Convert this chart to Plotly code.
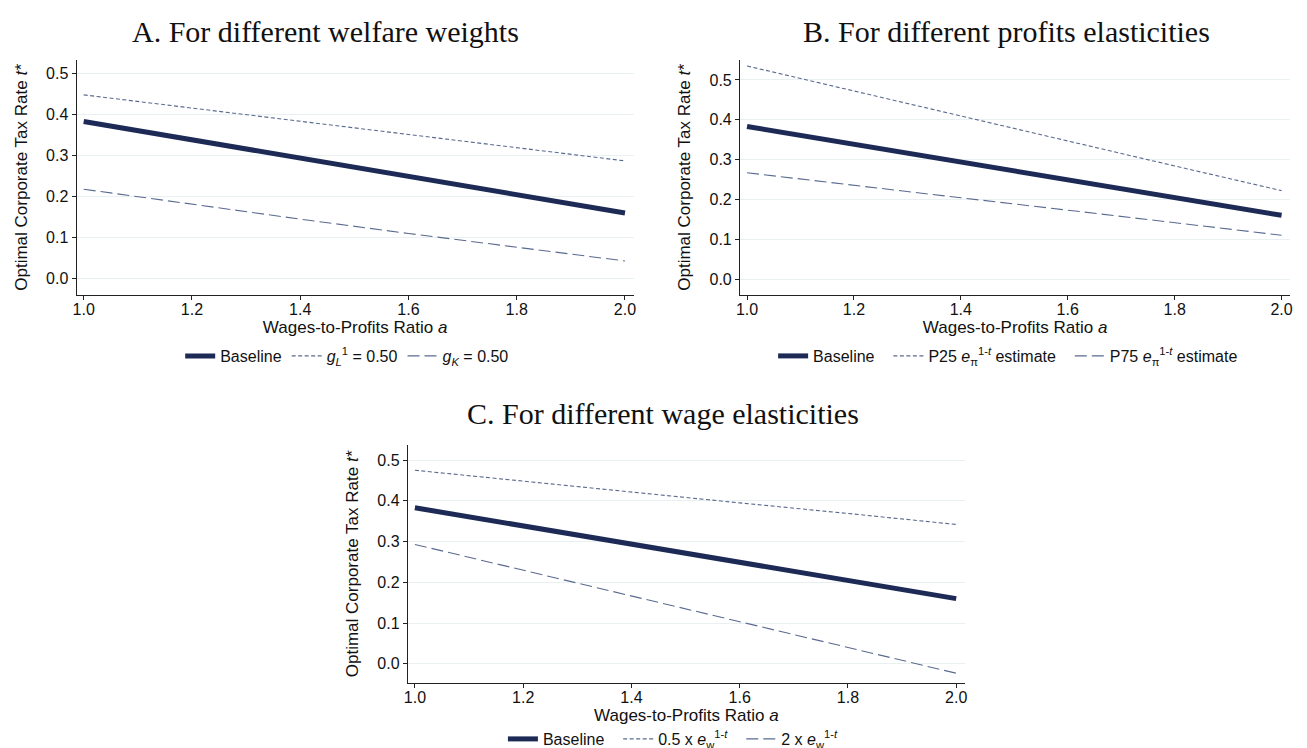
import plotly.graph_objects as go

# ---- data ----
ratio_a = [1.0, 1.2, 1.4, 1.6, 1.8, 2.0]
baseline = [0.383, 0.338, 0.294, 0.249, 0.205, 0.160]
# Panel A: welfare weights
g_L_050 = [0.448, 0.416, 0.383, 0.351, 0.319, 0.287]
g_K_050 = [0.218, 0.181, 0.145, 0.110, 0.076, 0.043]
# Panel B: profits elasticities
p25_est = [0.535, 0.472, 0.409, 0.347, 0.284, 0.222]
p75_est = [0.267, 0.235, 0.204, 0.173, 0.141, 0.110]
# Panel C: wage elasticities
half_ew = [0.475, 0.448, 0.422, 0.395, 0.369, 0.342]
double_ew = [0.293, 0.230, 0.167, 0.103, 0.040, -0.023]

panel_titles = ["A. For different welfare weights",
                "B. For different profits elasticities",
                "C. For different wage elasticities"]
x_ticks = [1.0, 1.2, 1.4, 1.6, 1.8, 2.0]
y_ticks = [0.0, 0.1, 0.2, 0.3, 0.4, 0.5]

W, H = 1307, 748
NAVY = "#1c2a55"
SLATE = "#5a6a8f"
GRID = "#e8f0f1"
SHORT = "4px,2.5px"
LONG = "12px,5px"
SP = "\u00a0\u00a0"

fig = go.Figure()

panels = [
    ("x", "y", "legend", (65, 625), (52, 287), [-0.04, 0.533], "",
     [("<i>g<sub>L</sub></i><sup>1</sup> = 0.50", g_L_050, SHORT),
      ("<i>g<sub>K</sub></i> = 0.50", g_K_050, LONG)]),
    ("x2", "y2", "legend2", (732, 1285), (52, 287), [-0.04, 0.55], SP,
     [("P25 <i>e</i><sub>π</sub><sup>1-<i>t</i></sup> estimate", p25_est, SHORT),
      ("P75 <i>e</i><sub>π</sub><sup>1-<i>t</i></sup> estimate", p75_est, LONG)]),
    ("x3", "y3", "legend3", (398, 958), (437, 675), [-0.047, 0.537], SP,
     [("0.5 x <i>e</i><sub>w</sub><sup>1-<i>t</i></sup>", half_ew, SHORT),
      ("2 x <i>e</i><sub>w</sub><sup>1-<i>t</i></sup>", double_ew, LONG)]),
]

legend_pos = [(337, 348), (1006, 348), (669, 731)]
title_pos = [(315, 23), (1000, 23), (655, 406)]

layout = dict(width=W, height=H, margin=dict(l=0, r=0, t=0, b=0),
              paper_bgcolor="white", plot_bgcolor="white",
              font=dict(family="Liberation Sans, Arial", color="#111111"),
              annotations=[])

for i, (xa, ya, lg, (x0, x1), (y0, y1), yr, pad, series) in enumerate(panels):
    fig.add_trace(go.Scatter(x=ratio_a, y=baseline, mode="lines", name="Baseline" + pad,
                             line=dict(color=NAVY, width=5), xaxis=xa, yaxis=ya, legend=lg))
    for name, vals, dash in series:
        fig.add_trace(go.Scatter(x=ratio_a, y=vals, mode="lines", name=name + pad,
                                 line=dict(color=SLATE, width=1.1, dash=dash),
                                 xaxis=xa, yaxis=ya, legend=lg))
    xkey = "xaxis" if xa == "x" else "xaxis" + xa[1:]
    ykey = "yaxis" if ya == "y" else "yaxis" + ya[1:]
    layout[xkey] = dict(domain=[x0 / W, x1 / W], range=[0.987, 2.016], anchor=ya,
                        tickvals=x_ticks, ticktext=[f"{v:.1f}" for v in x_ticks],
                        showgrid=False, zeroline=False, showline=True, linecolor="#222",
                        linewidth=1.2, ticks="outside", ticklen=4, tickcolor="#222",
                        tickfont=dict(size=16), ticklabelstandoff=-4,
                        title=dict(text="Wages-to-Profits Ratio <i>a</i>", font=dict(size=17),
                                   standoff=0))
    layout[ykey] = dict(domain=[1 - y1 / H, 1 - y0 / H], range=yr, anchor=xa,
                        tickvals=y_ticks, ticktext=[f"{v:.1f}" for v in y_ticks],
                        showgrid=True, gridcolor=GRID, gridwidth=1, zeroline=False,
                        showline=True, linecolor="#222", linewidth=1.2,
                        ticks="outside", ticklen=4, tickcolor="#222",
                        tickfont=dict(size=16),
                        title=dict(text="Optimal Corporate Tax Rate <i>t*</i>", font=dict(size=17),
                                   standoff=14))
    lx, ly = legend_pos[i]
    layout[lg] = dict(orientation="h", x=lx / W, y=1 - ly / H, xanchor="center",
                      yanchor="middle", font=dict(size=16), bgcolor="rgba(0,0,0,0)",
                      itemwidth=30, tracegroupgap=0)
    tx, ty = title_pos[i]
    layout["annotations"].append(dict(text=panel_titles[i], x=tx / W, y=1 - ty / H,
                                      xref="paper", yref="paper", showarrow=False,
                                      xanchor="center", yanchor="middle",
                                      font=dict(family="Liberation Serif", size=30,
                                                color="#111")))

fig.update_layout(**layout)
fig.write_html("out.html")
